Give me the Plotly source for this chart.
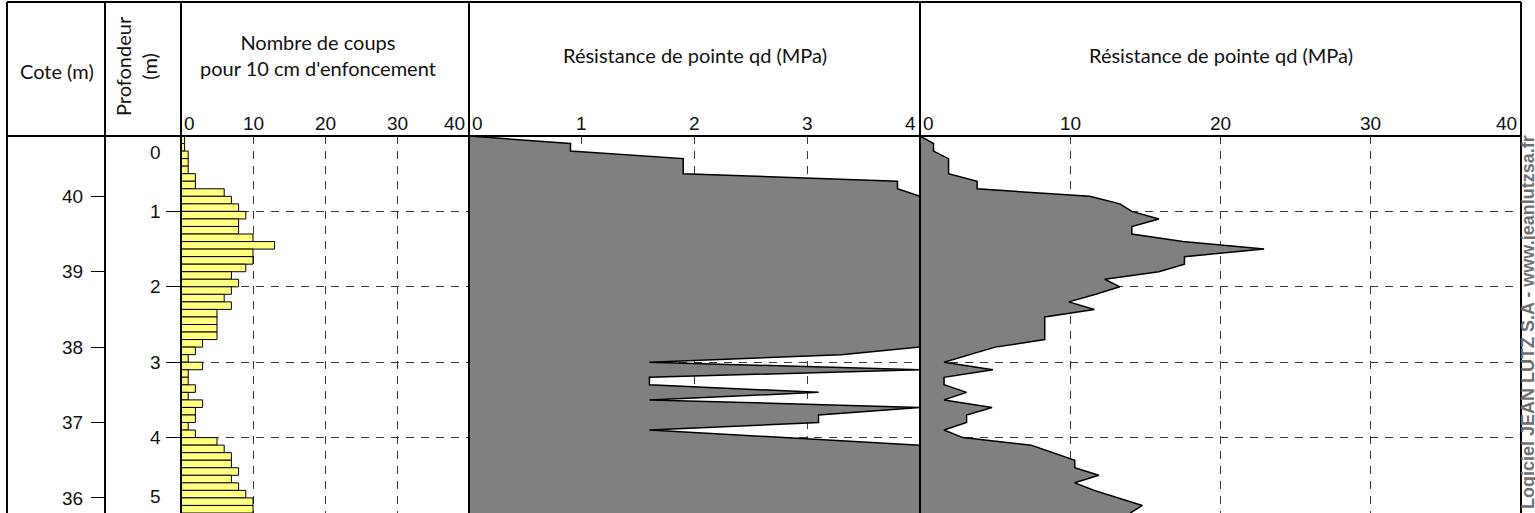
import plotly.graph_objects as go

# Nombre de coups pour 10 cm, par tranche de 0.1 m a partir de 0 m
step = 0.1
blows = [0.5, 0.5, 1, 1, 1, 2, 2, 6, 7, 8,
         9, 8, 8, 10, 13, 10, 10, 9, 7, 8,
         7, 6, 7, 5, 5, 5, 5, 3, 2, 1,
         3, 1, 1, 2, 1, 3, 2, 2, 1, 2,
         5, 6, 7, 7, 8, 7, 8, 9, 10, 10]
blow_depth = [round(step * i + step / 2, 2) for i in range(len(blows))]

# Resistance de pointe qd (MPa) aux profondeurs 0.0, 0.1, ... 5.0 m
qd = [0, 0.9, 0.9, 1.9, 1.9, 1.9, 3.8, 3.8, 11.3, 13.3,
      14.1, 15.9, 14.1, 14.1, 17.5, 22.9, 17.6, 17.6, 15.9, 12.3,
      13.3, 11.7, 9.9, 11.6, 8.3, 8.3, 8.3, 8.3, 5.0, 3.3,
      1.6, 4.85, 1.6, 1.6, 3.1, 1.6, 4.8, 3.1, 3.1, 1.6,
      2.85, 7.4, 8.8, 10.3, 10.3, 11.9, 10.3, 11.6, 13.2, 14.8,
      14.0]
qd_depth = [round(step * i, 2) for i in range(len(qd))]
qd_max_mid = 4
qd_mid = [min(v, qd_max_mid) for v in qd]

ground_level = 40.8
depth_max = 5.0
depth_ticks = [0, 1, 2, 3, 4, 5]
cote_ticks = [36, 37, 38, 39, 40]
blow_ticks = [0, 10, 20, 30, 40]
mid_ticks = [0, 1, 2, 3, 4]
right_ticks = [0, 10, 20, 30, 40]

W, H, TOP = 1535, 513, 136
PLOT_H = H - TOP


def px(x):
    return x / W


def py(y):
    return 1 - (y - TOP) / PLOT_H


X_LEFT, X_COTE, X_DEPTH, X_BLOW, X_MID, X_END = 7, 105, 181, 469, 920, 1521

head_font = dict(family="Lato, Open Sans, sans-serif", size=20, color="#111")
tick_font = dict(family="Liberation Sans, Arial, sans-serif", size=19, color="#111")
ytick_font = dict(family="Liberation Sans, Arial, sans-serif", size=19, color="#111")
grid_dash = "8px,7px"
grid_col = "#3a3a3a"

fig = go.Figure()

fig.add_trace(go.Bar(x=blows, y=blow_depth, orientation="h", width=step,
                     marker=dict(color="#FFFF80", line=dict(color="black", width=1)),
                     xaxis="x", yaxis="y", hoverinfo="skip"))

fig.add_trace(go.Scatter(x=qd_mid, y=qd_depth, mode="lines", fill="tozerox",
                         fillcolor="#808080", line=dict(color="black", width=1.5),
                         xaxis="x2", yaxis="y", hoverinfo="skip"))

fig.add_trace(go.Scatter(x=qd, y=qd_depth, mode="lines", fill="tozerox",
                         fillcolor="#808080", line=dict(color="black", width=1.5),
                         xaxis="x3", yaxis="y", hoverinfo="skip"))

# trace invisible pour l'axe des cotes
fig.add_trace(go.Scatter(x=[0, 0], y=[ground_level, ground_level - depth_max],
                         mode="lines", line=dict(width=0), xaxis="x", yaxis="y2",
                         hoverinfo="skip"))

xcommon = dict(showticklabels=False, ticks="", zeroline=False, showline=False,
               showgrid=True, gridcolor=grid_col, griddash=grid_dash, gridwidth=1,
               anchor="y", fixedrange=True)

fig.update_layout(
    width=W, height=H,
    margin=dict(l=0, r=0, t=TOP, b=0),
    paper_bgcolor="white", plot_bgcolor="white",
    showlegend=False,
    xaxis=dict(domain=[px(X_DEPTH), px(X_BLOW)], range=[0, 40],
               tickvals=blow_ticks[1:-1], **xcommon),
    xaxis2=dict(domain=[px(X_BLOW), px(X_MID)], range=[0, qd_max_mid],
                tickvals=mid_ticks[1:-1], **xcommon),
    xaxis3=dict(domain=[px(X_MID), px(X_END)], range=[0, 40],
                tickvals=right_ticks[1:-1], **xcommon),
    yaxis=dict(range=[depth_max, 0], anchor="x", tickvals=depth_ticks[1:],
               showticklabels=False, ticks="outside", ticklen=14, tickcolor="black",
               tickwidth=1, showgrid=True, gridcolor=grid_col, griddash=grid_dash,
               zeroline=False, showline=False, fixedrange=True),
    yaxis2=dict(range=[ground_level - depth_max, ground_level], overlaying="y",
                anchor="free", position=px(X_COTE), side="left",
                tickvals=cote_ticks, ticks="outside", ticklen=14, tickcolor="black",
                tickwidth=1, tickfont=ytick_font, ticklabelstandoff=4,
                showgrid=False, zeroline=False, showline=False, fixedrange=True),
)

# cadre du tableau
shapes = []
line = dict(color="black", width=2)
shapes.append(dict(type="line", xref="paper", yref="paper", x0=px(X_LEFT), x1=px(X_END),
                   y0=py(2), y1=py(2), line=line))
shapes.append(dict(type="line", xref="paper", yref="paper", x0=px(X_LEFT), x1=px(X_END),
                   y0=py(TOP), y1=py(TOP), line=line))
for xv in [X_LEFT, X_COTE, X_DEPTH, X_BLOW, X_MID, X_END]:
    shapes.append(dict(type="line", xref="paper", yref="paper", x0=px(xv), x1=px(xv),
                       y0=py(2), y1=py(H + 5), line=line))
fig.update_layout(shapes=shapes)

ann = []


def head(text, x, y, angle=0):
    ann.append(dict(text=text, x=px(x), y=py(y), xref="paper", yref="paper",
                    xanchor="center", yanchor="middle", showarrow=False,
                    textangle=angle, font=head_font))


# titres d'en-tete
head("Cote (m)", 57, 71)
head("Profondeur<br>(m)", 136, 66, -90)
head("Nombre de coups<br>pour 10 cm d'enfoncement", 318, 55)
head("Résistance de pointe qd (MPa)", (X_BLOW + X_MID) / 2, 55)
head("Résistance de pointe qd (MPa)", (X_MID + X_END) / 2, 55)

# graduations en haut des colonnes
for axis, ticks in [("x", blow_ticks), ("x2", mid_ticks), ("x3", right_ticks)]:
    for k, t in enumerate(ticks):
        if k == 0:
            xa, xs = "left", 1
        elif k == len(ticks) - 1:
            xa, xs = "right", -2
        else:
            xa, xs = "center", 0
        ann.append(dict(text=str(t), x=t, y=1, xref=axis, yref="paper", xanchor=xa,
                        yanchor="bottom", xshift=xs, yshift=0, showarrow=False,
                        font=tick_font))

# graduations des profondeurs
for k, d in enumerate(depth_ticks):
    if k == 0:
        ya, ys = "top", -4
    elif k == len(depth_ticks) - 1:
        ya, ys = "bottom", 4
    else:
        ya, ys = "middle", 0
    ann.append(dict(text=str(d), x=px(163), y=d, xref="paper", yref="y", xanchor="right",
                    yanchor=ya, yshift=ys, showarrow=False, font=ytick_font))

ann.append(dict(text="<b>Logiciel JEAN LUTZ S.A - www.jeanlutzsa.fr</b>", x=px(1528), y=0,
                xref="paper", yref="paper", xanchor="center", yanchor="bottom", yshift=2,
                textangle=-90, showarrow=False,
                font=dict(family="Liberation Sans, Arial, sans-serif", size=18, color="#707070")))

fig.update_layout(annotations=ann)

fig.write_html("out.html", config={"displayModeBar": False},
               post_script="document.body.style.margin='0';")
